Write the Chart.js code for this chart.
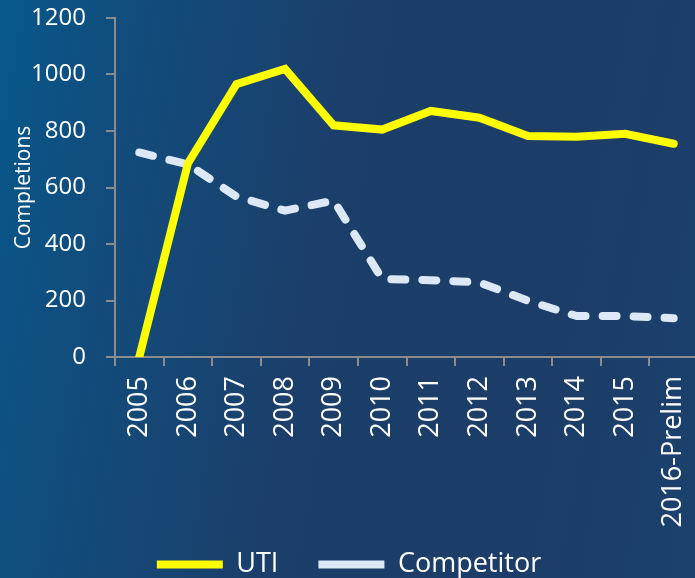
<!DOCTYPE html>
<html>
<head>
<meta charset="utf-8">
<script src="https://cdn.jsdelivr.net/npm/chart.js@4/dist/chart.umd.min.js"></script>
<style>
  html, body { margin: 0; padding: 0; overflow: hidden; }
  body {
    width: 695px; height: 578px;
    background: linear-gradient(100deg, #07578a 0%, #124c7c 18%, #1b3f6a 45%, #1c3d67 75%, #1b416d 100%);
  }
  canvas { display: block; }
</style>
</head>
<body>
<canvas id="chart" width="700" height="578"></canvas>
<script>
const years = ['2005', '2006', '2007', '2008', '2009', '2010', '2011', '2012', '2013', '2014', '2015', '2016-Prelim'];
const uti = [0, 685, 966, 1020, 820, 805, 871, 847, 782, 780, 790, 755];
const competitor = [724, 682, 568, 518, 554, 276, 272, 264, 199, 145, 145, 137];
const yTicks = [0, 200, 400, 600, 800, 1000, 1200];

const axisGray = '#8c8c8c';
const textColor = '#ffffff';
const fontFamily = '"Open Sans", sans-serif';

// legend sits a bit higher than the box the layout gives it
const liftLegend = {
  id: 'liftLegend',
  afterLayout(chart) {
    chart.legend.top -= 24;
    chart.legend.bottom -= 24;
  },
};

const ctx = document.getElementById('chart').getContext('2d');
// eslint-disable-next-line no-unused-vars
const lineChart = new Chart(ctx, {
  type: 'line',
  data: {
    labels: years,
    datasets: [{
      label: 'UTI',
      data: uti,
      borderColor: '#ffff00',
      backgroundColor: '#ffff00',
      borderWidth: 8,
      borderCapStyle: 'round',
      borderJoinStyle: 'miter',
      pointRadius: 0,
      tension: 0,
    }, {
      label: 'Competitor',
      data: competitor,
      borderColor: '#dce8f5',
      backgroundColor: '#dce8f5',
      borderWidth: 8,
      borderDash: [14, 17],
      borderCapStyle: 'round',
      borderJoinStyle: 'round',
      pointRadius: 0,
      tension: 0,
    }],
  },
  plugins: [liftLegend],
  options: {
    responsive: false,
    maintainAspectRatio: false,
    animation: false,
    layout: {
      padding: { top: 0, right: 2, left: 0, bottom: -34 },
    },
    plugins: {
      legend: {
        position: 'bottom',
        labels: {
          color: textColor,
          font: { family: fontFamily, size: 27 },
          usePointStyle: true,
          pointStyle: 'line',
          pointStyleWidth: 66,
          boxHeight: 8,
          padding: 40,
        },
      },
      tooltip: { enabled: false },
    },
    scales: {
      x: {
        offset: true,
        afterFit: (scale) => {
          scale.height = 178;
          scale.paddingLeft = 0;
          scale.paddingRight = 0;
        },
        grid: {
          offset: true,
          drawOnChartArea: false,
          drawTicks: true,
          tickLength: 9,
          color: axisGray,
          lineWidth: 2,
        },
        border: { color: axisGray, width: 2 },
        ticks: {
          color: textColor,
          font: { family: fontFamily, size: 27 },
          minRotation: 90,
          maxRotation: 90,
          padding: 10,
          autoSkip: false,
        },
      },
      y: {
        min: 0,
        max: 1200,
        afterBuildTicks: (scale) => {
          scale.ticks = yTicks.map((v) => ({ value: v }));
        },
        afterFit: (scale) => {
          scale.width = 115;
          scale.paddingTop = 18;
          scale.paddingBottom = 0;
        },
        grid: {
          drawOnChartArea: false,
          drawTicks: true,
          tickLength: 9,
          color: axisGray,
          lineWidth: 2,
        },
        border: { color: axisGray, width: 2 },
        ticks: {
          color: textColor,
          font: { family: fontFamily, size: 24 },
          padding: 20,
          callback: (value) => String(value),
        },
        title: {
          display: true,
          text: 'Completions',
          color: textColor,
          font: { family: fontFamily, size: 21 },
          padding: { top: 11, bottom: 0 },
        },
      },
    },
  },
});
</script>
</body>
</html>
